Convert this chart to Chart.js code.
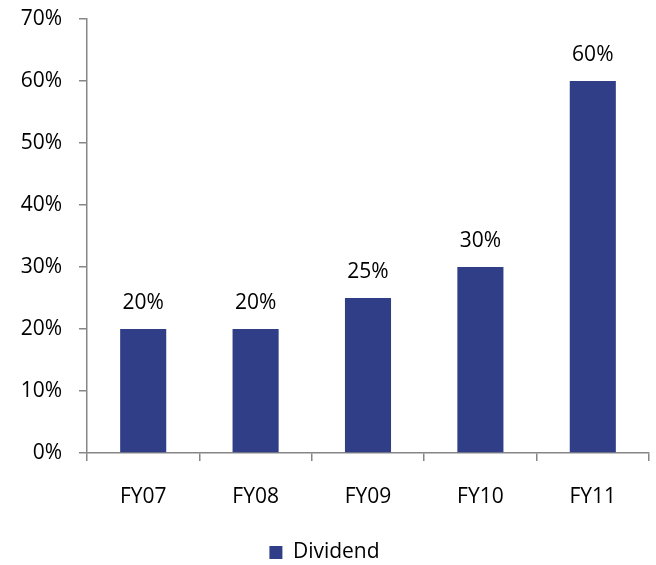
<!DOCTYPE html>
<html>
<head>
<meta charset="utf-8">
<script src="https://cdn.jsdelivr.net/npm/chart.js@4"></script>
<style>
  body { margin: 0; background: #fff; }
  #wrap { width: 656px; height: 565px; }
</style>
</head>
<body>
<div id="wrap"><canvas id="dividendChart" width="656" height="565"></canvas></div>
<script>
const years = ['FY07', 'FY08', 'FY09', 'FY10', 'FY11'];
const dividend = [20, 20, 25, 30, 60];
const yTicks = [0, 10, 20, 30, 40, 50, 60, 70];

const barColor = '#2F3E87';
const axisColor = '#868686';
const fontFamily = "'Open Sans', 'Liberation Sans', sans-serif";
const fontSize = 21;

// labels above each bar
const valueLabels = {
    id: 'valueLabels',
    afterDatasetsDraw(chart) {
        const ctx = chart.ctx;
        const meta = chart.getDatasetMeta(0);
        ctx.save();
        ctx.font = fontSize + 'px ' + fontFamily;
        ctx.fillStyle = '#000';
        ctx.textAlign = 'center';
        ctx.textBaseline = 'middle';
        meta.data.forEach((bar, i) => {
            ctx.fillText(dividend[i] + '%', bar.x, bar.y - 26);
        });
        ctx.restore();
    }
};

new Chart(document.getElementById('dividendChart'), {
    type: 'bar',
    data: {
        labels: years,
        datasets: [{
            label: 'Dividend',
            data: dividend,
            backgroundColor: barColor,
            borderWidth: 0,
            categoryPercentage: 1,
            barPercentage: 0.41
        }]
    },
    options: {
        responsive: false,
        animation: false,
        layout: { padding: { top: 19, right: 7, bottom: -8, left: 0 } },
        scales: {
            y: {
                min: 0,
                max: 70,
                afterBuildTicks: axis => { axis.ticks = yTicks.map(v => ({ value: v })); },
                afterFit: axis => {
                    axis.width = 87;
                    axis.paddingTop = 0;
                    axis.paddingBottom = 0;
                },
                border: { color: axisColor, width: 1.5 },
                grid: { drawOnChartArea: false, tickLength: 8, color: axisColor, lineWidth: 1.5 },
                ticks: {
                    padding: 17,
                    color: '#000',
                    font: { family: fontFamily, size: fontSize },
                    callback: v => v + '%'
                }
            },
            x: {
                offset: true,
                afterFit: axis => { axis.height = 89; },
                border: { color: axisColor, width: 1.5 },
                grid: { offset: true, drawOnChartArea: false, tickLength: 8, color: axisColor, lineWidth: 1.5 },
                ticks: {
                    padding: 23,
                    color: '#000',
                    font: { family: fontFamily, size: fontSize }
                }
            }
        },
        plugins: {
            legend: {
                position: 'bottom',
                labels: {
                    boxWidth: 13,
                    boxHeight: 13,
                    padding: 0,
                    color: '#000',
                    font: { family: fontFamily, size: fontSize }
                }
            },
            tooltip: { enabled: false }
        }
    },
    plugins: [valueLabels]
});
</script>
</body>
</html>
